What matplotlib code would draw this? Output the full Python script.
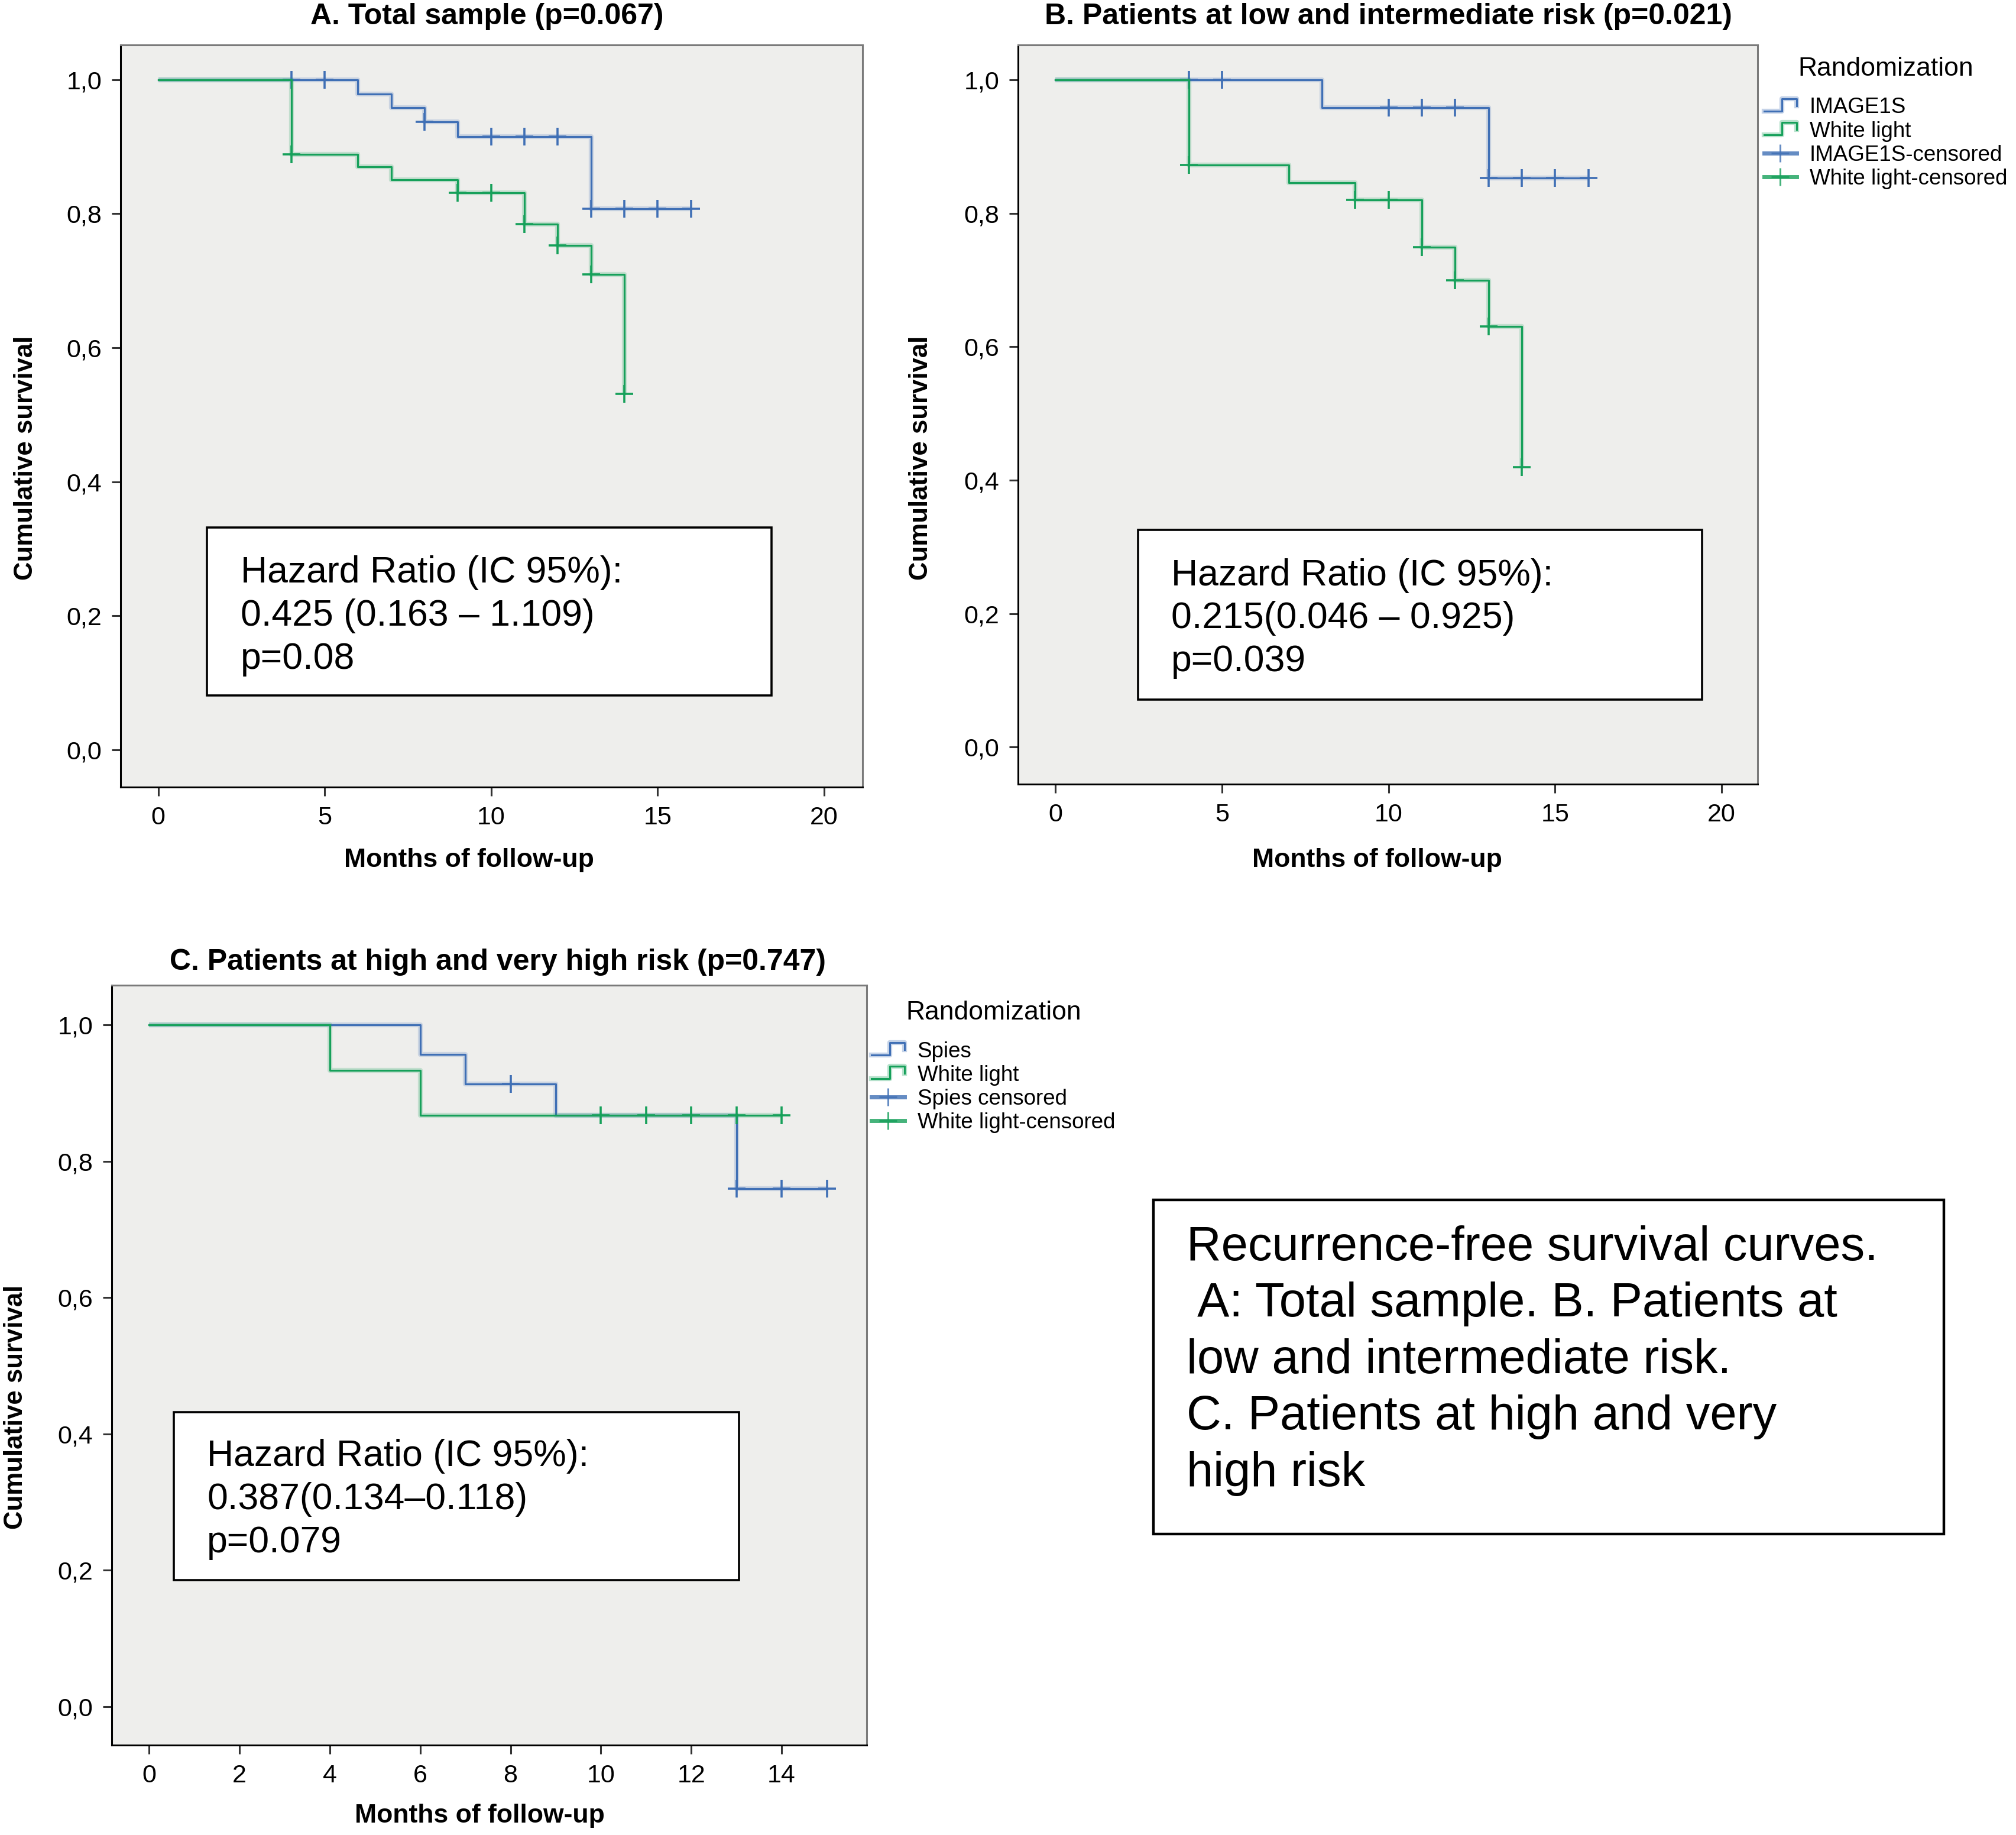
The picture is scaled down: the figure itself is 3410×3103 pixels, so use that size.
import numpy as np
import matplotlib
matplotlib.use("Agg")
import matplotlib.pyplot as plt
from matplotlib.lines import Line2D
from matplotlib.patches import Rectangle
from matplotlib.legend_handler import HandlerBase

plt.rcParams['font.family'] = ['Liberation Sans', 'DejaVu Sans']

# ---------------- data ----------------
# Panel A: total sample
A_img_times = [6, 7, 8, 9, 13]
A_img_surv = [0.979, 0.958, 0.937, 0.915, 0.807]
A_img_cens = [4, 5, 8, 10, 11, 12, 13, 14, 15, 16]
A_wl_times = [4, 6, 7, 9, 11, 12, 13, 14]
A_wl_surv = [0.889, 0.870, 0.851, 0.831, 0.784, 0.753, 0.709, 0.531]
A_wl_cens = [4, 9, 10, 11, 12, 13, 14]

# Panel B: low and intermediate risk
B_img_times = [8, 13]
B_img_surv = [0.958, 0.853]
B_img_cens = [4, 5, 10, 11, 12, 13, 14, 15, 16]
B_wl_times = [4, 7, 9, 11, 12, 13, 14]
B_wl_surv = [0.872, 0.846, 0.820, 0.749, 0.699, 0.630, 0.419]
B_wl_cens = [4, 9, 10, 11, 12, 13, 14]

# Panel C: high and very high risk
C_sp_times = [6, 7, 9, 13]
C_sp_surv = [0.957, 0.913, 0.867, 0.760]
C_sp_cens = [8, 13, 14, 15]
C_wl_times = [4, 6]
C_wl_surv = [0.933, 0.867]
C_wl_cens = [10, 11, 12, 13, 14]

titles = ["A. Total sample (p=0.067)",
          "B. Patients at low and intermediate risk (p=0.021)",
          "C. Patients at high and very high risk (p=0.747)"]
hr_texts = ["Hazard Ratio (IC 95%):\n0.425 (0.163 \u2013 1.109)\np=0.08",
            "Hazard Ratio (IC 95%):\n0.215(0.046 \u2013 0.925)\np=0.039",
            "Hazard Ratio (IC 95%):\n0.387(0.134\u20130.118)\np=0.079"]
legend_B = ["IMAGE1S", "White light", "IMAGE1S-censored", "White light-censored"]
legend_C = ["Spies", "White light", "Spies censored", "White light-censored"]
yticks = [0.0, 0.2, 0.4, 0.6, 0.8, 1.0]
ytick_labels = ["0,0", "0,2", "0,4", "0,6", "0,8", "1,0"]
xticks_AB = [0, 5, 10, 15, 20]
xticks_C = [0, 2, 4, 6, 8, 10, 12, 14]
caption = ("Recurrence-free survival curves.\n A: Total sample. B. Patients at\n"
           "low and intermediate risk.\nC. Patients at high and very\nhigh risk")

BLUE = '#3f6fb5'
GREEN = '#16a05a'
BG = '#eeeeec'

W, H = 1568.0, 1427.0  # reference layout units


def fx(x):
    return x / W


def fy(y):
    return 1 - y / H


fig = plt.figure(figsize=(34.10, 31.03), dpi=100)


def make_ax(l, r, t, b):
    ax = fig.add_axes([fx(l), fy(b), fx(r) - fx(l), fy(t) - fy(b)])
    ax.set_facecolor(BG)
    for s in ['left', 'bottom']:
        ax.spines[s].set_color('black')
        ax.spines[s].set_linewidth(2.2)
    for s in ['top', 'right']:
        ax.spines[s].set_color('#7a7a7a')
        ax.spines[s].set_linewidth(2.2)
    ax.tick_params(axis='both', direction='out', length=11, width=2.2,
                   color='#333333', labelsize=31, pad=12)
    ax.set_yticks(yticks)
    ax.set_yticklabels(ytick_labels)
    return ax


def km(ax, times, surv, cens, end, color):
    xs = [0] + list(times) + [end]
    ys = [1.0] + list(surv) + [surv[-1]]
    ax.step(xs, ys, where='post', color=color, lw=6, alpha=0.2,
            solid_capstyle='butt')
    ax.step(xs, ys, where='post', color=color, lw=2.3)
    xs_arr = np.array(xs)
    ys_arr = np.array(ys)
    cy = [ys_arr[np.searchsorted(xs_arr, c, side='right') - 1] for c in cens]
    ax.plot(cens, cy, linestyle='none', marker='+', markersize=22,
            mew=2.6, color=color)


class StepHandler(HandlerBase):
    def __init__(self, color):
        super().__init__()
        self.color = color

    def create_artists(self, legend, orig_handle, xdescent, ydescent,
                       width, height, fontsize, trans):
        x0, x1 = -xdescent, -xdescent + width
        xm = x0 + 0.55 * width
        yl, yh = -ydescent + 0.15 * height, -ydescent + 0.95 * height
        band = Line2D([x0, xm, xm, x1, x1], [yl, yl, yh, yh, yh - 0.45 * height],
                      color=self.color, lw=6, alpha=0.3, transform=trans)
        line = Line2D([x0, xm, xm, x1, x1], [yl, yl, yh, yh, yh - 0.45 * height],
                      color=self.color, lw=2.2, transform=trans)
        return [band, line]


def add_legend(ax, labels, x_left, y_top):
    h1 = Line2D([], [], color=BLUE)
    h2 = Line2D([], [], color=GREEN)
    h3 = Line2D([], [], color=BLUE, marker='+', markersize=22, mew=2.2, lw=5, alpha=0.8)
    h4 = Line2D([], [], color=GREEN, marker='+', markersize=22, mew=2.2, lw=5, alpha=0.8)
    leg = ax.legend([h1, h2, h3, h4], labels,
                    handler_map={h1: StepHandler(BLUE), h2: StepHandler(GREEN)},
                    loc='upper left', bbox_to_anchor=(fx(x_left), fy(y_top)),
                    bbox_transform=fig.transFigure, frameon=False,
                    fontsize=26.5, title='Randomization', title_fontsize=32,
                    handlelength=1.5, handletextpad=0.6, labelspacing=0.14,
                    borderpad=0, borderaxespad=0)
    leg._legend_box.sep = 20
    return leg


def hr_box(l, r, t, b, text, tx, ty):
    fig.add_artist(Rectangle((fx(l), fy(b)), fx(r) - fx(l), fy(t) - fy(b),
                             transform=fig.transFigure, facecolor='white',
                             edgecolor='black', lw=2.6, zorder=5))
    fig.text(fx(tx), fy(ty), text, fontsize=45, ha='left', va='center',
             linespacing=1.3, zorder=6)


# ---------- Panel A ----------
axA = make_ax(94, 671, 35, 612)
axA.set_xlim(-1.12, 21.16)
axA.set_ylim(-0.0557, 1.0518)
axA.set_xticks(xticks_AB)
km(axA, A_img_times, A_img_surv, A_img_cens, 16, BLUE)
km(axA, A_wl_times, A_wl_surv, A_wl_cens, 14, GREEN)
fig.text(fx(379), fy(13), titles[0], fontsize=36, fontweight='bold',
         ha='center', va='center')
fig.text(fx(365), fy(669), "Months of follow-up", fontsize=32,
         fontweight='bold', ha='center', va='center')
fig.text(fx(20), fy(356), "Cumulative survival", fontsize=31.5,
         fontweight='bold', ha='center', va='center', rotation=90)
hr_box(161, 600, 410, 541, hr_texts[0], 187, 479)

# ---------- Panel B ----------
axB = make_ax(792, 1367, 35, 610)
axB.set_xlim(-1.12, 21.08)
axB.set_ylim(-0.0559, 1.052)
axB.set_xticks(xticks_AB)
km(axB, B_img_times, B_img_surv, B_img_cens, 16, BLUE)
km(axB, B_wl_times, B_wl_surv, B_wl_cens, 14, GREEN)
fig.text(fx(1080), fy(13), titles[1], fontsize=36, fontweight='bold',
         ha='center', va='center')
fig.text(fx(1071), fy(669), "Months of follow-up", fontsize=32,
         fontweight='bold', ha='center', va='center')
fig.text(fx(716), fy(356), "Cumulative survival", fontsize=31.5,
         fontweight='bold', ha='center', va='center', rotation=90)
hr_box(885, 1324, 412, 544, hr_texts[1], 911, 481)
add_legend(axB, legend_B, 1372, 44)

# ---------- Panel C ----------
axC = make_ax(87, 674, 766, 1357)
axC.set_xlim(-0.825, 15.88)
axC.set_ylim(-0.0566, 1.0585)
axC.set_xticks(xticks_C)
km(axC, C_sp_times, C_sp_surv, C_sp_cens, 15, BLUE)
km(axC, C_wl_times, C_wl_surv, C_wl_cens, 14, GREEN)
fig.text(fx(387), fy(748), titles[2], fontsize=36, fontweight='bold',
         ha='center', va='center')
fig.text(fx(373), fy(1412), "Months of follow-up", fontsize=32,
         fontweight='bold', ha='center', va='center')
fig.text(fx(12), fy(1094), "Cumulative survival", fontsize=31.5,
         fontweight='bold', ha='center', va='center', rotation=90)
hr_box(135, 575, 1098, 1229, hr_texts[2], 161, 1166)
add_legend(axC, legend_C, 678, 778)

# ---------- Caption box ----------
fig.add_artist(Rectangle((fx(897), fy(1193)), fx(1512) - fx(897), fy(933) - fy(1193),
                         transform=fig.transFigure, facecolor='white',
                         edgecolor='black', lw=3.2))
fig.text(fx(923), fy(1058), caption, fontsize=58.5, ha='left', va='center',
         linespacing=1.33)

fig.savefig("out.png", dpi=100)
